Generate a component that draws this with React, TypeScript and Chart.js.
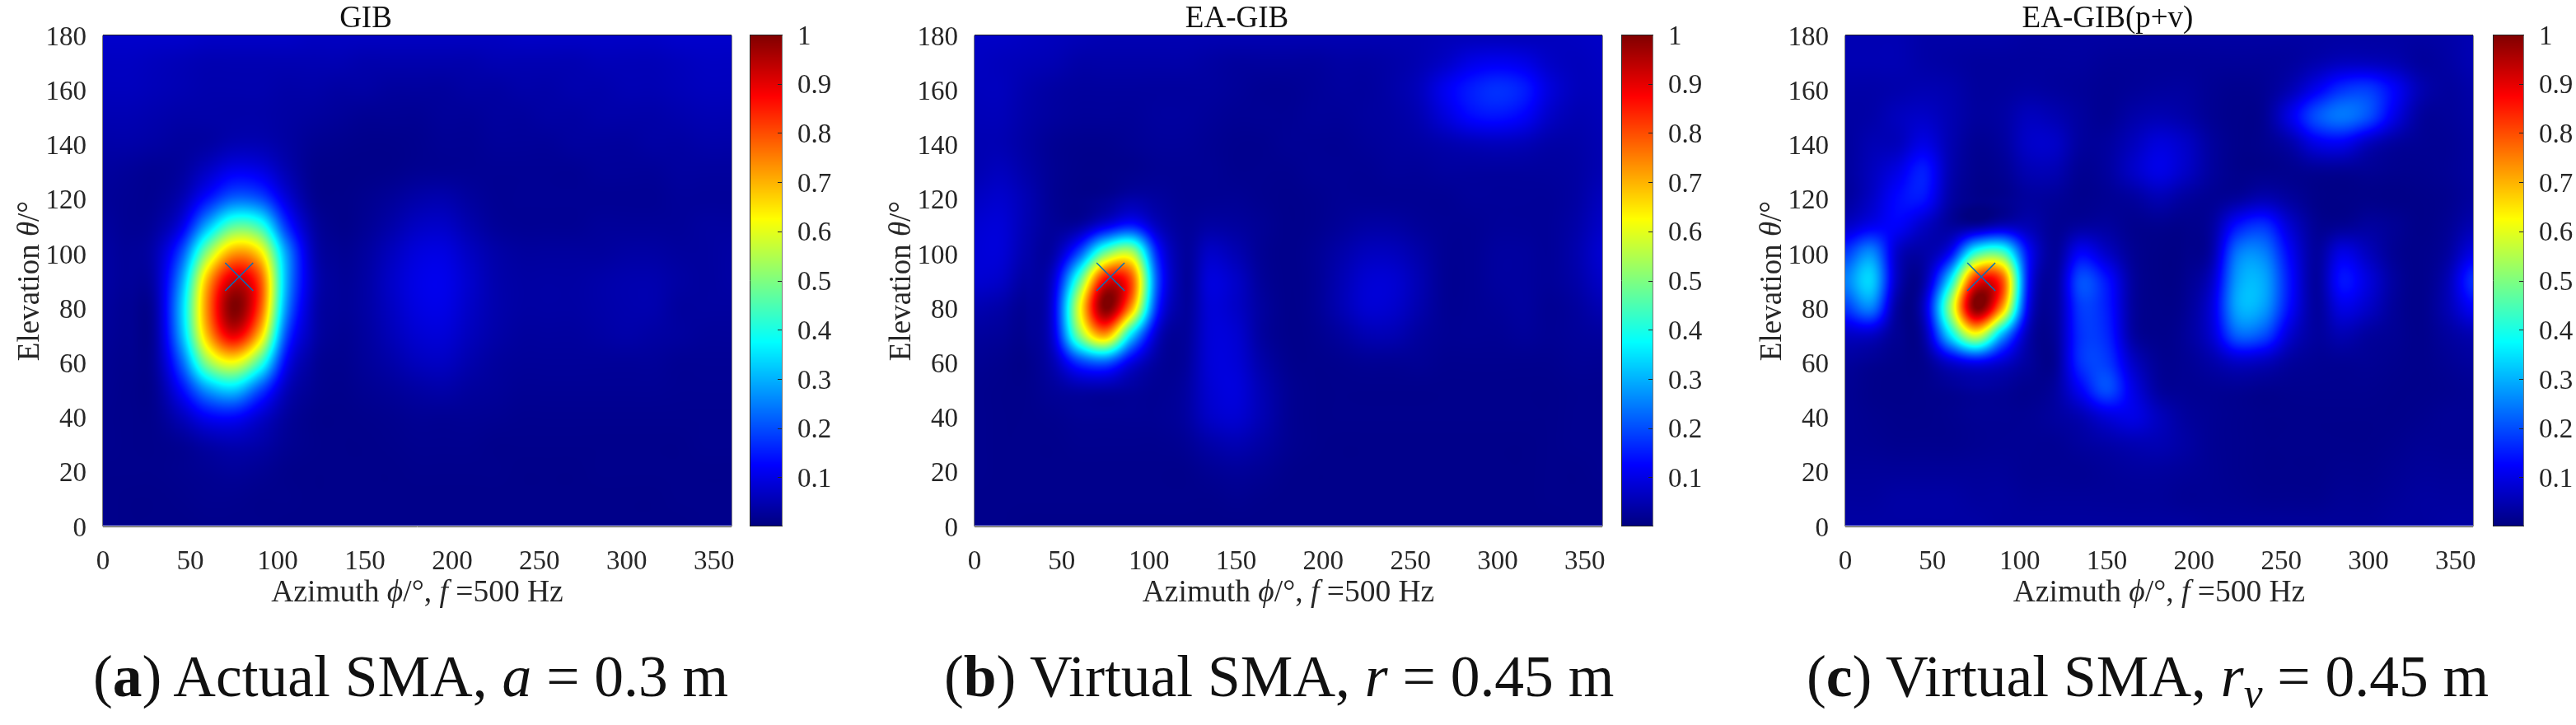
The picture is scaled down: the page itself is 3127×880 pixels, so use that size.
import React, { useEffect, useRef } from "react";
import { Chart, registerables } from "chart.js";

Chart.register(...registerables);

const azimuthNodes = [0,15,30,45,60,75,90,105,120,135,150,165,180,195,210,225,240,255,270,285,300,315,330,345,360];
const elevationNodes = [180,170,160,150,140,130,120,110,100,90,80,70,60,50,40,30,20,10,0];
const xTicks = [0,50,100,150,200,250,300,350];
const yTicks = [0,20,40,60,80,100,120,140,160,180];
const barTicks = [0.1,0.2,0.3,0.4,0.5,0.6,0.7,0.8,0.9,1];
const titles = ["GIB","EA-GIB","EA-GIB(p+v)"];
const markerAz = 78;
const markerEl = 91.5;

const gridGIB = [
[.075,.075,.075,.075,.07,.07,.07,.07,.065,.065,.065,.065,.065,.065,.065,.065,.07,.07,.07,.07,.07,.07,.075,.075,.075],
[.065,.065,.06,.055,.05,.05,.05,.05,.05,.05,.045,.045,.045,.045,.045,.05,.05,.05,.05,.055,.055,.055,.06,.065,.065],
[.06,.06,.055,.05,.045,.045,.045,.04,.04,.035,.035,.03,.03,.03,.035,.035,.04,.04,.045,.045,.05,.05,.055,.06,.06],
[.05,.05,.045,.04,.04,.04,.04,.035,.03,.025,.02,.02,.02,.025,.025,.03,.03,.035,.035,.04,.04,.04,.045,.05,.05],
[.04,.04,.035,.03,.035,.05,.05,.035,.02,.015,.012,.012,.015,.02,.02,.025,.025,.025,.03,.03,.03,.035,.035,.04,.04],
[.03,.025,.02,.03,.07,.11,.1,.05,.015,.01,.01,.012,.018,.02,.02,.02,.02,.02,.02,.025,.025,.025,.03,.03,.03],
[.025,.02,.02,.05,.14,.22,.2,.09,.02,.01,.015,.025,.04,.045,.03,.02,.02,.02,.02,.02,.02,.02,.025,.025,.025],
[.03,.02,.03,.1,.3,.46,.42,.17,.04,.012,.02,.04,.065,.07,.045,.025,.02,.02,.02,.025,.025,.025,.025,.03,.03],
[.035,.025,.05,.2,.52,.72,.65,.28,.06,.02,.03,.06,.09,.095,.065,.04,.03,.03,.03,.03,.035,.035,.03,.03,.035],
[.035,.025,.05,.28,.7,.92,.8,.3,.07,.025,.035,.07,.1,.105,.075,.045,.035,.035,.035,.04,.045,.045,.035,.03,.035],
[.03,.02,.04,.32,.75,1,.8,.27,.06,.025,.035,.065,.095,.1,.07,.045,.035,.035,.035,.04,.045,.045,.03,.03,.03],
[.025,.018,.035,.3,.7,.9,.68,.2,.05,.02,.03,.055,.08,.085,.06,.04,.03,.03,.03,.035,.04,.035,.03,.025,.025],
[.02,.015,.03,.22,.52,.62,.44,.12,.03,.015,.025,.04,.06,.065,.045,.03,.025,.025,.025,.025,.025,.025,.02,.02,.02],
[.018,.012,.02,.13,.28,.33,.2,.06,.02,.012,.018,.025,.035,.04,.03,.025,.02,.02,.02,.02,.02,.02,.018,.018,.018],
[.015,.012,.015,.06,.12,.13,.08,.03,.012,.01,.012,.015,.02,.02,.02,.018,.015,.015,.015,.015,.015,.015,.015,.015,.015],
[.015,.012,.012,.02,.04,.05,.04,.02,.012,.01,.01,.012,.015,.015,.015,.012,.012,.012,.012,.012,.012,.012,.012,.015,.015],
[.012,.012,.012,.015,.02,.025,.02,.012,.01,.01,.01,.01,.012,.012,.012,.012,.01,.01,.01,.012,.012,.012,.012,.012,.012],
[.012,.01,.01,.012,.015,.015,.012,.012,.01,.01,.01,.01,.01,.01,.01,.01,.01,.01,.01,.01,.01,.01,.012,.012,.012],
[.012,.01,.01,.01,.012,.012,.012,.01,.01,.01,.01,.01,.01,.01,.01,.01,.01,.01,.01,.01,.01,.01,.01,.012,.012],
];

const gridEA = [
[.07,.07,.065,.06,.055,.05,.05,.05,.05,.05,.05,.05,.05,.05,.05,.05,.05,.05,.055,.055,.055,.055,.06,.065,.07],
[.065,.06,.055,.05,.04,.04,.04,.04,.04,.035,.03,.03,.03,.03,.035,.035,.04,.05,.07,.1,.11,.1,.07,.06,.065],
[.06,.06,.045,.035,.03,.03,.03,.03,.03,.03,.025,.02,.02,.025,.03,.03,.04,.06,.11,.15,.17,.15,.09,.06,.06],
[.055,.055,.04,.03,.025,.025,.025,.03,.03,.025,.02,.02,.02,.025,.025,.03,.035,.05,.09,.13,.14,.12,.07,.05,.055],
[.05,.05,.035,.02,.015,.015,.02,.025,.025,.02,.015,.015,.02,.02,.02,.025,.03,.035,.045,.055,.06,.055,.04,.04,.05],
[.05,.06,.04,.02,.012,.012,.015,.02,.02,.02,.015,.015,.015,.02,.02,.02,.025,.025,.03,.03,.03,.03,.03,.035,.05],
[.065,.075,.05,.02,.012,.02,.04,.03,.02,.02,.02,.015,.012,.015,.02,.02,.02,.02,.02,.025,.025,.025,.025,.035,.06],
[.08,.085,.05,.025,.035,.1,.15,.06,.025,.035,.03,.02,.012,.015,.025,.035,.035,.025,.02,.02,.025,.025,.025,.04,.07],
[.085,.085,.045,.04,.2,.48,.55,.15,.03,.07,.05,.02,.012,.02,.04,.06,.06,.04,.02,.02,.03,.03,.025,.045,.08],
[.08,.07,.035,.08,.45,.88,.8,.2,.03,.09,.07,.025,.012,.02,.05,.08,.08,.05,.02,.02,.03,.03,.025,.04,.07],
[.05,.04,.025,.1,.6,1,.72,.16,.03,.085,.07,.03,.012,.02,.05,.08,.075,.045,.02,.02,.025,.03,.02,.03,.05],
[.03,.025,.02,.09,.5,.72,.35,.07,.025,.085,.08,.03,.012,.015,.03,.05,.05,.03,.02,.02,.02,.025,.02,.025,.03],
[.02,.015,.012,.05,.18,.22,.1,.03,.025,.085,.085,.04,.015,.012,.015,.02,.02,.02,.015,.015,.015,.015,.015,.02,.02],
[.015,.012,.012,.025,.04,.04,.03,.02,.03,.08,.09,.05,.02,.012,.012,.012,.012,.012,.012,.012,.012,.012,.012,.015,.015],
[.015,.012,.012,.015,.02,.02,.02,.02,.03,.07,.08,.05,.02,.012,.012,.012,.012,.012,.012,.012,.012,.012,.012,.015,.015],
[.015,.012,.012,.012,.015,.015,.015,.015,.02,.04,.05,.035,.018,.012,.01,.01,.01,.01,.01,.01,.01,.01,.012,.015,.015],
[.015,.012,.012,.012,.012,.012,.012,.012,.012,.02,.025,.02,.012,.01,.01,.01,.01,.01,.01,.01,.01,.01,.012,.012,.015],
[.012,.012,.012,.012,.012,.012,.012,.012,.012,.012,.015,.012,.01,.01,.01,.01,.01,.01,.01,.01,.01,.01,.012,.012,.012],
[.012,.012,.01,.01,.01,.01,.01,.01,.01,.01,.01,.01,.01,.01,.01,.01,.01,.01,.01,.01,.01,.01,.01,.012,.012],
];

const gridEAPV = [
[.05,.05,.05,.04,.04,.04,.04,.035,.035,.035,.035,.035,.035,.035,.035,.035,.035,.035,.035,.035,.035,.035,.035,.04,.05],
[.05,.05,.05,.04,.035,.03,.03,.03,.03,.03,.025,.025,.025,.025,.025,.025,.025,.03,.045,.06,.06,.05,.03,.035,.05],
[.04,.04,.045,.05,.045,.03,.03,.035,.03,.025,.02,.025,.03,.03,.02,.015,.02,.05,.11,.17,.18,.12,.05,.03,.04],
[.035,.04,.06,.07,.05,.03,.035,.06,.05,.03,.02,.04,.05,.04,.02,.012,.02,.1,.2,.24,.2,.1,.03,.025,.035],
[.03,.05,.06,.1,.05,.02,.03,.07,.07,.03,.03,.06,.09,.07,.03,.012,.015,.04,.1,.11,.06,.03,.02,.02,.03],
[.03,.06,.1,.15,.05,.015,.02,.05,.05,.02,.03,.07,.1,.07,.03,.012,.012,.015,.02,.02,.02,.015,.015,.02,.03],
[.03,.07,.13,.14,.04,.012,.015,.03,.025,.015,.02,.03,.05,.03,.02,.03,.05,.03,.01,.008,.01,.008,.01,.015,.03],
[.07,.11,.12,.07,.03,.03,.06,.05,.02,.03,.03,.015,.015,.012,.03,.14,.17,.08,.02,.02,.03,.02,.01,.02,.05],
[.18,.26,.07,.04,.12,.42,.45,.13,.025,.12,.07,.02,.008,.01,.04,.24,.25,.12,.03,.1,.06,.02,.012,.03,.1],
[.25,.33,.06,.04,.35,.85,.8,.14,.03,.2,.14,.03,.008,.015,.07,.28,.29,.14,.03,.14,.09,.03,.012,.05,.17],
[.18,.25,.03,.07,.52,1,.72,.11,.03,.18,.15,.03,.01,.02,.09,.29,.28,.13,.03,.1,.07,.025,.012,.05,.12],
[.07,.07,.02,.04,.35,.6,.3,.05,.025,.17,.16,.035,.012,.025,.08,.22,.2,.08,.03,.05,.03,.02,.012,.03,.05],
[.03,.02,.012,.015,.08,.12,.08,.03,.02,.17,.18,.07,.02,.02,.04,.07,.06,.03,.02,.02,.02,.015,.012,.02,.03],
[.02,.012,.01,.012,.02,.03,.025,.015,.03,.12,.2,.1,.03,.02,.02,.02,.015,.015,.015,.015,.015,.012,.012,.015,.02],
[.02,.015,.012,.012,.015,.02,.02,.02,.03,.05,.09,.1,.06,.03,.02,.015,.012,.012,.012,.012,.012,.012,.015,.02,.02],
[.02,.018,.015,.015,.015,.018,.02,.02,.02,.03,.04,.05,.05,.035,.02,.015,.012,.012,.012,.012,.012,.015,.02,.02,.02],
[.025,.025,.025,.025,.025,.025,.025,.02,.02,.02,.025,.03,.03,.025,.02,.015,.012,.012,.012,.015,.015,.02,.025,.025,.025],
[.03,.03,.035,.035,.035,.03,.03,.025,.025,.025,.025,.025,.025,.02,.02,.018,.015,.015,.015,.02,.02,.025,.03,.03,.03],
[.035,.035,.035,.035,.035,.035,.03,.03,.03,.03,.03,.03,.03,.03,.025,.025,.025,.025,.025,.025,.025,.03,.03,.035,.035],
];

const grids = [gridGIB, gridEA, gridEAPV];

const PAGE_H = 770;
const PLOT_TOP = 43;
const PLOT_BOTTOM = 639;
const panels = [
  { left: 125, right: 888, barLeft: 910, barRight: 950 },
  { left: 1183, right: 1945, barLeft: 1968, barRight: 2007 },
  { left: 2240, right: 3002, barLeft: 3026, barRight: 3064 },
];
const captions = [
  { x: 113, label: "a", text: <> Actual SMA, <i>a</i> = 0.3 m</> },
  { x: 1146, label: "b", text: <> Virtual SMA, <i>r</i> = 0.45 m</> },
  { x: 2193, label: "c", text: <> Virtual SMA, <i>r<sub style={{ fontSize: "0.72em", verticalAlign: "-0.25em", lineHeight: 0 }}>v</sub></i> = 0.45 m</> },
];

const clamp01 = (v: number) => Math.max(0, Math.min(1, v));
function jet(v: number): [number, number, number] {
  return [
    255 * clamp01(Math.min(4 * v - 1.5, -4 * v + 4.5)),
    255 * clamp01(Math.min(4 * v - 0.5, -4 * v + 3.5)),
    255 * clamp01(Math.min(4 * v + 0.5, -4 * v + 2.5)),
  ];
}
function cr(p0: number, p1: number, p2: number, p3: number, t: number) {
  return 0.5 * (2 * p1 + (p2 - p0) * t + (2 * p0 - 5 * p1 + 4 * p2 - p3) * t * t + (3 * p1 - p0 - 3 * p2 + p3) * t * t * t);
}
function sample(rows: number[][], az: number, el: number) {
  const fx = (az / 360) * (azimuthNodes.length - 1);
  const fy = ((180 - el) / 180) * (elevationNodes.length - 1);
  const ix = Math.max(0, Math.min(azimuthNodes.length - 2, Math.floor(fx)));
  const iy = Math.max(0, Math.min(elevationNodes.length - 2, Math.floor(fy)));
  const tx = fx - ix, ty = fy - iy;
  const at = (r: number, c: number) =>
    rows[Math.max(0, Math.min(rows.length - 1, r))][Math.max(0, Math.min(azimuthNodes.length - 1, c))];
  const col = [-1, 0, 1, 2].map((d) =>
    cr(at(iy + d, ix - 1), at(iy + d, ix), at(iy + d, ix + 1), at(iy + d, ix + 2), tx)
  );
  return cr(col[0], col[1], col[2], col[3], ty);
}

function edge(ctx: CanvasRenderingContext2D, x1: number, y1: number, x2: number, y2: number, color: string) {
  ctx.strokeStyle = color;
  ctx.lineWidth = 1;
  ctx.beginPath();
  ctx.moveTo(x1, y1);
  ctx.lineTo(x2, y2);
  ctx.stroke();
}

const heatPlugin = {
  id: "heat",
  beforeDatasetsDraw(chart: any, _a: any, opts: any) {
    if (!opts.rows) return;
    const { left, top, right, bottom } = chart.chartArea;
    const w = Math.round(right - left), h = Math.round(bottom - top);
    const img = chart.ctx.createImageData(w, h);
    const xs = chart.scales.x, ys = chart.scales.y;
    for (let j = 0; j < h; j++) {
      const el = ys.getValueForPixel(top + j + 0.5);
      for (let i = 0; i < w; i++) {
        const az = xs.getValueForPixel(left + i + 0.5);
        const [r, g, b] = jet(clamp01(sample(opts.rows, az, el)));
        const k = 4 * (j * w + i);
        img.data[k] = r; img.data[k + 1] = g; img.data[k + 2] = b; img.data[k + 3] = 255;
      }
    }
    chart.ctx.putImageData(img, left, top);
  },
  afterDatasetsDraw(chart: any, _a: any, opts: any) {
    if (!opts.rows) return;
    const { left, top, right, bottom } = chart.chartArea;
    const ctx = chart.ctx;
    edge(ctx, left - 0.5, top, left - 0.5, bottom, "#7a7a7a");
    edge(ctx, right + 0.5, top, right + 0.5, bottom, "#8a8a8a");
    edge(ctx, left, top - 0.5, right, top - 0.5, "#262626");
    edge(ctx, left, bottom + 0.5, right, bottom + 0.5, "#262626");
  },
  afterDraw(chart: any, _a: any, opts: any) {
    if (!opts.rows) return;
    const ctx = chart.ctx;
    const { left, right, bottom, top } = chart.chartArea;
    const drawRuns = (runs: [string, boolean][], size: number) => {
      let total = 0;
      for (const [t, it] of runs) {
        ctx.font = `${it ? "italic " : ""}${size}px "Liberation Serif"`;
        total += ctx.measureText(t).width;
      }
      let x = -total / 2;
      for (const [t, it] of runs) {
        ctx.font = `${it ? "italic " : ""}${size}px "Liberation Serif"`;
        ctx.fillText(t, x, 0);
        x += ctx.measureText(t).width;
      }
    };
    ctx.save();
    ctx.fillStyle = "#262626";
    ctx.textAlign = "left";
    ctx.textBaseline = "middle";
    ctx.save();
    ctx.translate((left + right) / 2, bottom + 81);
    drawRuns([["Azimuth ", false], ["\u03d5", true], ["/\u00b0, ", false], ["f", true], [" =500 Hz", false]], 37.5);
    ctx.restore();
    ctx.save();
    ctx.translate(left - 88, (top + bottom) / 2);
    ctx.rotate(-Math.PI / 2);
    drawRuns([["Elevation ", false], ["\u03b8", true], ["/\u00b0", false]], 37);
    ctx.restore();
    ctx.restore();
  },
};

const barPlugin = {
  id: "bar",
  beforeDatasetsDraw(chart: any, _a: any, opts: any) {
    if (!opts.on) return;
    const { left, top, right, bottom } = chart.chartArea;
    const ys = chart.scales.y;
    const ctx = chart.ctx;
    for (let py = Math.round(top); py < bottom; py++) {
      const [r, g, b] = jet(clamp01(ys.getValueForPixel(py + 0.5)));
      ctx.fillStyle = `rgb(${r | 0},${g | 0},${b | 0})`;
      ctx.fillRect(left, py, right - left, 1);
    }
    for (const t of ys.ticks) {
      const py = Math.round(ys.getPixelForValue(t.value)) + 0.5;
      if (t.value < 1) edge(ctx, right - 6, py, right, py, "#262626");
    }
    edge(ctx, left + 0.5, top, left + 0.5, bottom, "#262626");
    edge(ctx, right - 0.5, top, right - 0.5, bottom, "#7a7a7a");
    edge(ctx, left, top + 0.5, right, top + 0.5, "#262626");
    edge(ctx, left, bottom - 0.5, right, bottom - 0.5, "#262626");
  },
};

const tickFont = { family: '"Liberation Serif"', size: 33 };

function Panel({ index }: { index: number }) {
  const mainRef = useRef<HTMLCanvasElement>(null);
  const barRef = useRef<HTMLCanvasElement>(null);
  const p = panels[index];
  const mainLeft = p.left - 125;
  const mainW = p.right - p.left + 125 + 30;
  const barCanvasLeft = p.barLeft - 5;
  const barCanvasW = p.barRight - p.barLeft + 5 + 70;

  useEffect(() => {
    const rows = grids[index];
    const cells = rows.flatMap((row, r) =>
      row.map((v, c) => ({ x: azimuthNodes[c], y: elevationNodes[r], v }))
    );
    const main = new Chart(mainRef.current!, {
      type: "scatter",
      data: {
        datasets: [
          { label: "pattern", data: cells, pointRadius: 0, pointHoverRadius: 0 },
          {
            label: "source",
            data: [{ x: markerAz, y: markerEl }],
            pointStyle: "crossRot",
            pointRadius: 24,
            pointBorderWidth: 1.5,
            borderColor: "#0072bd",
            backgroundColor: "#0072bd",
          },
        ],
      } as any,
      options: {
        responsive: false,
        animation: false,
        events: [],
        layout: { padding: { left: 0, right: 30, top: 0, bottom: 0 } },
        plugins: {
          legend: { display: false },
          tooltip: { enabled: false },
          title: {
            display: true,
            text: titles[index],
            color: "#111",
            font: { family: '"Liberation Serif"', size: 37, weight: "normal", lineHeight: 39 / 37 },
            padding: { top: 4, bottom: 0 },
          },
          heat: { rows },
        },
        scales: {
          x: {
            type: "linear",
            min: 0,
            max: 360,
            afterBuildTicks: (s: any) => { s.ticks = xTicks.map((value) => ({ value })); },
            afterFit: (s: any) => { s.height = PAGE_H - PLOT_BOTTOM; },
            grid: { display: false },
            border: { display: false },
            ticks: { font: tickFont, color: "#262626", padding: 16, maxRotation: 0, autoSkip: false },
          },
          y: {
            type: "linear",
            min: 0,
            max: 180,
            afterBuildTicks: (s: any) => { s.ticks = yTicks.map((value) => ({ value })); },
            afterFit: (s: any) => { s.width = 125; },
            grid: { display: false },
            border: { display: false },
            ticks: { font: tickFont, color: "#262626", padding: 12, autoSkip: false, labelOffset: 3 },
          },
        },
      } as any,
      plugins: [heatPlugin as any],
    });
    const bar = new Chart(barRef.current!, {
      type: "scatter",
      data: { datasets: [{ label: "scale", data: [], pointRadius: 0 }] },
      options: {
        responsive: false,
        animation: false,
        events: [],
        layout: { padding: { left: 5, right: 0, top: PLOT_TOP - 1, bottom: PAGE_H - PLOT_BOTTOM } },
        plugins: { legend: { display: false }, tooltip: { enabled: false }, bar: { on: true } },
        scales: {
          x: { type: "linear", display: false, min: 0, max: 1 },
          y: {
            type: "linear",
            position: "right",
            min: 0,
            max: 1,
            afterBuildTicks: (s: any) => { s.ticks = barTicks.map((value) => ({ value })); },
            afterFit: (s: any) => { s.width = 70; },
            grid: { display: false },
            border: { display: false },
            ticks: {
              font: tickFont,
              color: "#262626",
              padding: 10,
              autoSkip: false,
              labelOffset: 3,
              callback: (v: any) => String(Math.round(v * 10) / 10),
            },
          },
        },
      } as any,
      plugins: [barPlugin as any],
    });
    return () => { main.destroy(); bar.destroy(); };
  }, [index]);

  return (
    <>
      <canvas ref={mainRef} width={mainW} height={PAGE_H}
        style={{ position: "absolute", left: mainLeft, top: 0, width: mainW, height: PAGE_H }} />
      <canvas ref={barRef} width={barCanvasW} height={PAGE_H}
        style={{ position: "absolute", left: barCanvasLeft, top: 0, width: barCanvasW, height: PAGE_H }} />
    </>
  );
}

export default function App() {
  return (
    <div style={{ position: "absolute", left: 0, top: 0, width: 3127, height: 880, background: "#fff", overflow: "hidden" }}>
      {panels.map((_, i) => <Panel key={i} index={i} />)}
      {captions.map((c) => (
        <div key={c.label} style={{
          position: "absolute", left: c.x, top: 776, whiteSpace: "nowrap", color: "#111",
          font: '71.5px/90px "Liberation Serif"',
        }}>
          (<b>{c.label}</b>){c.text}
        </div>
      ))}
    </div>
  );
}
